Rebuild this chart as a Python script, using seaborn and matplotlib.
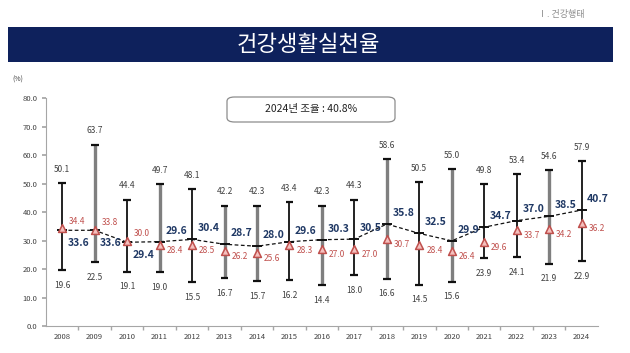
import matplotlib
matplotlib.use("Agg")
import matplotlib.pyplot as plt
import seaborn as sns
import pandas as pd
from matplotlib.patches import Rectangle, FancyBboxPatch

years = ["2008", "2009", "2010", "2011", "2012", "2013", "2014", "2015", "2016",
         "2017", "2018", "2019", "2020", "2021", "2022", "2023", "2024"]
max_vals = [50.1, 63.7, 44.4, 49.7, 48.1, 42.2, 42.3, 43.4, 42.3, 44.3, 58.6, 50.5,
            55.0, 49.8, 53.4, 54.6, 57.9]
min_vals = [19.6, 22.5, 19.1, 19.0, 15.5, 16.7, 15.7, 16.2, 14.4, 18.0, 16.6, 14.5,
            15.6, 23.9, 24.1, 21.9, 22.9]
std_rate = [33.6, 33.6, 29.4, 29.6, 30.4, 28.7, 28.0, 29.6, 30.3, 30.5, 35.8, 32.5,
            29.9, 34.7, 37.0, 38.5, 40.7]
crude_rate = [34.4, 33.8, 30.0, 28.4, 28.5, 26.2, 25.6, 28.3, 27.0, 27.0, 30.7, 28.4,
              26.4, 29.6, 33.7, 34.2, 36.2]
bar_gray = [False, True, False, True, False, True, True, False, True, False, True,
            False, True, False, False, True, False]
yticks = [0, 10, 20, 30, 40, 50, 60, 70, 80]

sns.set_theme(style="white")
plt.rcParams['font.family'] = ['Noto Sans CJK KR', 'DejaVu Sans']

df = pd.DataFrame({"year": years, "max": max_vals, "min": min_vals,
                   "std": std_rate, "crude": crude_rate, "gray": bar_gray})
df["pos"] = range(len(df))

fig = plt.figure(figsize=(6.3, 3.53), dpi=100)
fig.patch.set_facecolor("white")
ax = fig.add_axes([0.073, 0.0765, 0.876, 0.6455])

# range bars
for _, r in df.iterrows():
    col = "#7f7f7f" if r["gray"] else "#111111"
    lw = 2.4 if r["gray"] else 1.3
    ax.vlines(r["pos"], r["min"], r["max"], color=col, lw=lw, zorder=2)
    ax.hlines([r["min"], r["max"]], r["pos"] - 0.12, r["pos"] + 0.12, color="#111111", lw=1.6, zorder=2)

# standardized rate dashed line
sns.lineplot(data=df, x="pos", y="std", ax=ax, color="#111111", lw=0.9,
             linestyle=(0, (3, 2)), zorder=3, marker="_", markersize=7,
             markeredgewidth=1.4, markeredgecolor="#111111")
# crude rate triangles
sns.scatterplot(data=df, x="pos", y="crude", ax=ax, marker="^", s=32,
                color="#f4c0be", edgecolor="#c0504d", linewidth=1.1, zorder=4)

for i, r in df.iterrows():
    ax.annotate(f"{r['max']:.1f}", (r["pos"], r["max"]), xytext=(0, 10),
                textcoords="offset points", ha="center", va="center",
                fontsize=6, color="#404040")
    ax.annotate(f"{r['min']:.1f}", (r["pos"], r["min"]), xytext=(0, -11),
                textcoords="offset points", ha="center", va="center",
                fontsize=6, color="#404040")
    dy = -9 if i < 3 else 8
    ax.annotate(f"{r['std']:.1f}", (r["pos"], r["std"]), xytext=(4, dy),
                textcoords="offset points", ha="left", va="center",
                fontsize=7.5, fontweight="bold", color="#1f3864")
    dy2 = 5 if i < 3 else -4
    ax.annotate(f"{r['crude']:.1f}", (r["pos"], r["crude"]), xytext=(5, dy2),
                textcoords="offset points", ha="left", va="center",
                fontsize=6, color="#c0504d")

ax.set_xlim(-0.5, len(df) - 0.5)
ax.set_ylim(0, 80)
ax.set_xticks(df["pos"])
ax.set_xticklabels(years, fontsize=5.5, color="#404040")
ax.set_xticks([p + 0.5 for p in df["pos"][:-1]], minor=True)
ax.tick_params(axis="x", which="major", length=0, pad=5)
ax.tick_params(axis="x", which="minor", length=3, color="#a6a6a6", direction="out", bottom=True)
ax.set_yticks(yticks)
ax.set_yticklabels([f"{v:.1f}" for v in yticks], fontsize=5.5, color="#404040")
ax.tick_params(axis="y", length=3, color="#a6a6a6", direction="out", left=True, pad=3)
ax.set_xlabel("")
ax.set_ylabel("")
for s in ["top", "right"]:
    ax.spines[s].set_visible(False)
for s in ["left", "bottom"]:
    ax.spines[s].set_color("#a6a6a6")
    ax.spines[s].set_linewidth(0.8)

fig.text(18 / 630, 1 - 80 / 353, "(%)", fontsize=5, color="#404040", ha="center", va="center")

# header
fig.text(585 / 630, 1 - 15 / 353, "Ⅰ. 건강행태", fontsize=6.5, color="#8c8c8c", ha="right", va="center")
fig.patches.append(Rectangle((8 / 630, 1 - 62 / 353), 605 / 630, 35 / 353,
                             transform=fig.transFigure, facecolor="#0e215c",
                             edgecolor="none", zorder=0))
fig.text(0.49, 1 - 44.5 / 353, "건강생활실천율", fontsize=16, color="white",
         ha="center", va="center")

# annotation box
fig.patches.append(FancyBboxPatch((227 / 630, 1 - 122 / 353), 168 / 630, 25 / 353,
                                  boxstyle="round,pad=0,rounding_size=0.012",
                                  transform=fig.transFigure, facecolor="white",
                                  edgecolor="#8c8c8c", lw=0.9))
fig.text(311 / 630, 1 - 109 / 353, "2024년 조율 : 40.8%", fontsize=7.5, color="#222222",
         ha="center", va="center")

fig.savefig("out.png", dpi=100)
